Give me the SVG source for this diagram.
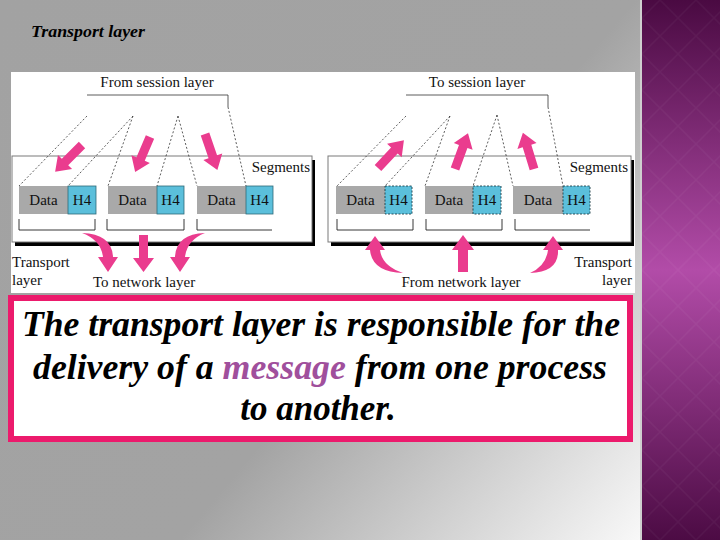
<svg xmlns="http://www.w3.org/2000/svg" width="720" height="540" viewBox="0 0 720 540">
<style>
.lbl{font-family:'Liberation Serif','DejaVu Serif','Noto Serif',serif;font-size:15px;fill:#111}
.mid{text-anchor:middle}
.end{text-anchor:end}
.box{fill:#fff;stroke:#7a7a7a;stroke-width:1}
.shadow{fill:#000}
.data{fill:#a9a9a9}
.h4{fill:#5bbfdb;stroke:#2d6a78;stroke-width:0.8}
.h4d{fill:#5bbfdb;stroke:#1d3f48;stroke-width:0.9;stroke-dasharray:2 1.5}
.dash{stroke:#333;stroke-width:0.8;stroke-dasharray:2 2;fill:none}
.solid{stroke:#333;stroke-width:0.8;fill:none}
.brk{stroke:#222;stroke-width:0.9;fill:none}
.pink{fill:#ea3c8e}
.big{font-family:'Liberation Serif','DejaVu Serif','Noto Serif',serif;font-size:35px;font-weight:bold;font-style:italic;fill:#000;text-anchor:middle}
.ttl{font-family:'Liberation Serif','DejaVu Serif','Noto Serif',serif;font-size:16px;font-weight:bold;font-style:italic;fill:#000}
</style>
<defs>
<linearGradient id="bg" gradientUnits="userSpaceOnUse" x1="0" y1="0" x2="640" y2="540">
<stop offset="0" stop-color="#a2a2a2"/>
<stop offset="0.58" stop-color="#a3a3a3"/>
<stop offset="1" stop-color="#f8f8f8"/>
</linearGradient>
<linearGradient id="strip" x1="0" y1="0" x2="0" y2="1">
<stop offset="0" stop-color="#4a0a42"/>
<stop offset="0.5" stop-color="#b24ca8"/>
<stop offset="1" stop-color="#4c0b44"/>
</linearGradient>
<pattern id="dia" width="36" height="36" patternUnits="userSpaceOnUse" x="642">
<path d="M18,0 L36,18 L18,36 L0,18 Z" fill="none" stroke="#ffffff" stroke-opacity="0.035" stroke-width="1.5"/>
</pattern>
<path id="fat" d="M0,-4.5 L24,-4.5 L24,-10 L38,0 L24,10 L24,4.5 L0,4.5 Z"/>
</defs>

<rect x="0" y="0" width="720" height="540" fill="url(#bg)"/>
<rect x="640" y="0" width="2" height="540" fill="#cfcfcf"/>
<rect x="642" y="0" width="78" height="540" fill="url(#strip)"/>
<rect x="642" y="0" width="78" height="540" fill="url(#dia)"/>

<text id="title" class="ttl" x="31" y="37" textLength="114" lengthAdjust="spacingAndGlyphs">Transport layer</text>

<rect x="11" y="72" width="624" height="221" fill="#fff"/>

<g id="panel-left">
<rect class="shadow" x="15" y="160" width="300" height="86"/>
<rect class="box" x="12" y="156" width="300" height="86"/>
<text class="lbl end" x="310" y="172">Segments</text>
</g>
<g id="panel-right">
<rect class="shadow" x="331" y="160" width="303" height="86"/>
<rect class="box" x="328" y="156" width="303" height="86"/>
<text class="lbl end" x="628" y="172">Segments</text>
</g>

<g id="seg-l1">
<rect class="data" x="19" y="186" width="49" height="28"/>
<rect class="h4" x="68" y="186" width="28" height="28"/>
<text class="lbl mid" x="43.5" y="205">Data</text>
<text class="lbl mid" x="82" y="205">H4</text>
<path class="brk" d="M19,219 V230 H95 V219"/>
</g>
<g id="seg-l2">
<rect class="data" x="108" y="186" width="49" height="28"/>
<rect class="h4" x="157" y="186" width="27" height="28"/>
<text class="lbl mid" x="132.5" y="205">Data</text>
<text class="lbl mid" x="170.5" y="205">H4</text>
<path class="brk" d="M107,219 V230 H184 V219"/>
</g>
<g id="seg-l3">
<rect class="data" x="197" y="186" width="49" height="28"/>
<rect class="h4" x="246" y="186" width="27" height="28"/>
<text class="lbl mid" x="221.5" y="205">Data</text>
<text class="lbl mid" x="259.5" y="205">H4</text>
<path class="brk" d="M197,219 V230 H272"/>
</g>

<g id="seg-r1">
<rect class="data" x="336" y="186" width="49" height="28"/>
<rect class="h4d" x="385" y="186" width="27" height="28"/>
<text class="lbl mid" x="360.5" y="205">Data</text>
<text class="lbl mid" x="398.5" y="205">H4</text>
<path class="brk" d="M337,219 V230 H413 V219"/>
</g>
<g id="seg-r2">
<rect class="data" x="425" y="186" width="48" height="28"/>
<rect class="h4d" x="473" y="186" width="28" height="28"/>
<text class="lbl mid" x="449" y="205">Data</text>
<text class="lbl mid" x="487" y="205">H4</text>
<path class="brk" d="M426,219 V230 H502 V219"/>
</g>
<g id="seg-r3">
<rect class="data" x="513" y="186" width="50" height="28"/>
<rect class="h4d" x="563" y="186" width="27" height="28"/>
<text class="lbl mid" x="538" y="205">Data</text>
<text class="lbl mid" x="576.5" y="205">H4</text>
<path class="brk" d="M515,219 V230 H590"/>
</g>

<g id="labels">
<text class="lbl mid" x="157" y="87">From session layer</text>
<text class="lbl mid" x="477" y="87">To session layer</text>
<text class="lbl" x="12" y="267">Transport</text>
<text class="lbl" x="12" y="285">layer</text>
<text class="lbl mid" x="144" y="287">To network layer</text>
<text class="lbl end" x="632" y="267">Transport</text>
<text class="lbl end" x="632" y="285">layer</text>
<text class="lbl mid" x="461" y="287">From network layer</text>
</g>

<g id="connectors">
<path class="solid" d="M87,95 H228 V107"/>
<path class="dash" d="M87,116 L19,186 M133,116 L68,186 M133,116 L108,186 M178,116 L157,186 M178,116 L197,186 M228,107 L246,186"/>
<path class="solid" d="M406,95 H548 V107"/>
<path class="dash" d="M406,116 L337,186 M450,116 L385,186 M450,116 L425,186 M497,115 L473,186 M497,115 L513,186 M548,107 L563,186"/>

<use href="#fat" class="pink" transform="translate(82,145) rotate(135)"/>
<use href="#fat" class="pink" transform="translate(150,137) rotate(113)"/>
<use href="#fat" class="pink" transform="translate(205,134) rotate(71)"/>
<use href="#fat" class="pink" transform="translate(378,168) rotate(-47)"/>
<use href="#fat" class="pink" transform="translate(455,169) rotate(-70)"/>
<use href="#fat" class="pink" transform="translate(534,169) rotate(-107)"/>

<path class="pink" d="M82,233 Q112,234 113,257 L118,257 L108,272 L98,257 L103,257 Q101,240 82,233 Z"/>
<path class="pink" d="M139,235 H148 V258 H154 L143.5,272 L133,258 H139 Z"/>
<path class="pink" d="M205,233 Q176,234 175,257 L170,257 L180,272 L190,257 L185,257 Q187,240 205,233 Z"/>
<path class="pink" d="M403,273 Q372,272 370,250 L365,250 L375,236 L385,250 L380,250 Q382,266 403,273 Z"/>
<path class="pink" d="M458,272 H468 V250 H474 L463,235 L452,250 H458 Z"/>
<path class="pink" d="M530,273 Q559,272 558,250 L563,250 L553,236 L543,250 L548,250 Q546,266 530,273 Z"/>
</g>

<g id="note">
<rect x="11" y="298" width="619" height="141" fill="#fff" stroke="#ec1a6c" stroke-width="6"/>
<text class="big" x="321" y="336" textLength="598" lengthAdjust="spacingAndGlyphs">The transport layer is responsible for the</text>
<text class="big" x="320" y="379" textLength="574" lengthAdjust="spacingAndGlyphs">delivery of a <tspan fill="#a04f9c">message</tspan> from one process</text>
<text class="big" x="318" y="420">to another.</text>
</g>
</svg>
